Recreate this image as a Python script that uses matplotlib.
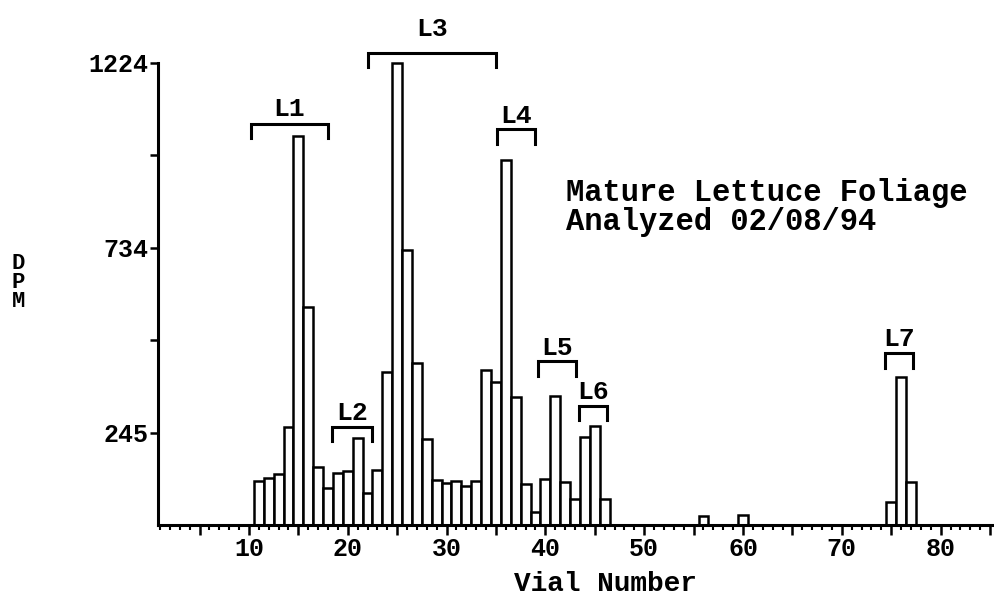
import matplotlib
matplotlib.use("Agg")
import matplotlib.pyplot as plt
from matplotlib.ticker import MultipleLocator, FixedLocator, FuncFormatter

# ---- data ----
vials = list(range(11, 47)) + [56, 60, 75, 76, 77]
dpm = [117, 125, 134, 260, 1031, 577, 154, 99, 139, 143,
       231, 86, 145, 405, 1224, 729, 429, 229, 119, 110,
       117, 104, 117, 410, 379, 967, 338, 108, 35, 121,
       341, 115, 68, 233, 262, 68,
       23, 27, 60, 392, 115]

ytick_vals = [245, 734, 1224]
ytick_minor = [490, 979]
xtick_labels = ["10", "20", "30", "40", "50", "60", "70", "80"]

peak_names = ["L1", "L2", "L3", "L4", "L5", "L6", "L7"]
peak_start = [10.2, 18.4, 22.1, 35.1, 39.25, 43.4, 74.4]
peak_end = [18.0, 22.5, 35.0, 39.0, 43.1, 46.2, 77.2]
peak_level = [1062, 260, 1251, 1048, 434, 315, 455]
label_level = [1102, 296, 1314, 1084, 468, 352, 492]

note_lines = ["Mature Lettuce Foliage", "Analyzed 02/08/94"]

FONT = "Liberation Mono"

fig = plt.figure(figsize=(9.95, 5.98), dpi=100)
ax = fig.add_axes([0.1588, 0.1221, 0.8412, 0.7726])

ax.bar(vials, dpm, width=1.0, align="center", facecolor="white",
       edgecolor="black", linewidth=1.8, clip_on=False, zorder=2)

ax.set_xlim(0.8, 85.5)
ax.set_ylim(0, 1224)

for s in ["top", "right"]:
    ax.spines[s].set_visible(False)
ax.spines["left"].set_linewidth(2.2)
ax.spines["bottom"].set_linewidth(2.2)

# y ticks
ax.yaxis.set_major_locator(FixedLocator(ytick_vals))
ax.set_yticklabels([str(v) for v in ytick_vals])
ax.yaxis.set_minor_locator(FixedLocator(ytick_minor))
ax.tick_params(axis="y", which="major", direction="out", length=6, width=1.8, pad=1)
ax.tick_params(axis="y", which="minor", direction="out", length=6, width=1.8)

# x ticks
ax.xaxis.set_major_locator(MultipleLocator(5))
ax.xaxis.set_minor_locator(MultipleLocator(1))
lab_map = {int(t): t for t in xtick_labels}
ax.xaxis.set_major_formatter(FuncFormatter(lambda v, p: lab_map.get(int(round(v)), "")))
ax.tick_params(axis="x", which="major", direction="out", length=7, width=1.8, pad=2)
ax.tick_params(axis="x", which="minor", direction="out", length=3.5, width=1.5)

for lab in ax.get_xticklabels() + ax.get_yticklabels():
    lab.set_fontfamily(FONT)
    lab.set_fontweight("bold")
    lab.set_fontsize(18)

ax.set_xlabel("Vial Number", fontfamily=FONT, fontweight="bold", fontsize=20,
              va="center")
ax.xaxis.set_label_coords(0.534, -0.128)
ax.set_ylabel("D\nP\nM", fontfamily=FONT, fontweight="bold", fontsize=16,
              rotation=0, linespacing=0.9, va="center", ha="center")
ax.yaxis.set_label_coords(-0.167, 0.525)

# peak brackets
drop = 38
for name, x0, x1, lv, ll in zip(peak_names, peak_start, peak_end, peak_level, label_level):
    ax.plot([x0, x0, x1, x1], [lv - drop, lv, lv, lv - drop], color="black",
            lw=2.2, clip_on=False, solid_joinstyle="miter", zorder=3)
    ax.text((x0 + x1) / 2, ll, name, ha="center", va="center", fontfamily=FONT,
            fontweight="bold", fontsize=19, clip_on=False)

ax.text(42.1, 880, note_lines[0], ha="left", va="center", fontfamily=FONT,
        fontweight="bold", fontsize=22)
ax.text(42.1, 804, note_lines[1], ha="left", va="center", fontfamily=FONT,
        fontweight="bold", fontsize=22)

fig.savefig("out.png", dpi=100)
